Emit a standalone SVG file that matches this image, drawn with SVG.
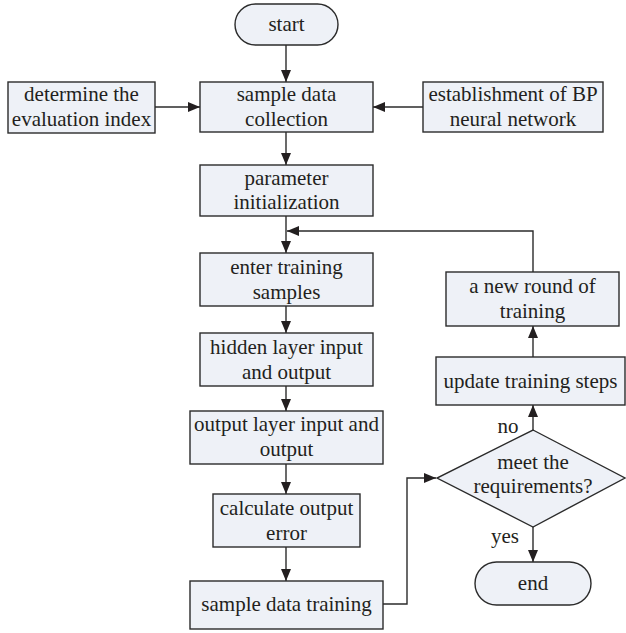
<svg xmlns="http://www.w3.org/2000/svg" width="626" height="633" viewBox="0 0 626 633">
<style>
.n{fill:#eef1f7;stroke:#2b2b2b;stroke-width:1.4}
.t{font-family:"Liberation Serif","Times New Roman",serif;font-size:21px;fill:#231f20;text-anchor:middle}
.c{fill:none;stroke:#2b2b2b;stroke-width:1.4}
</style>
<defs>
<marker id="a" viewBox="0 0 12 10" refX="12" refY="5" markerWidth="12" markerHeight="10" markerUnits="userSpaceOnUse" orient="auto">
<path d="M0,0 L12,5 L0,10 Z" fill="#231f20"/>
</marker>
</defs>
<g id="connectors">
<path class="c" d="M286,45 V82" marker-end="url(#a)"/>
<path class="c" d="M155,107 H200" marker-end="url(#a)"/>
<path class="c" d="M423,107 H373" marker-end="url(#a)"/>
<path class="c" d="M286,132 V165" marker-end="url(#a)"/>
<path class="c" d="M286,216 V253" marker-end="url(#a)"/>
<path class="c" d="M533,272 V231 H287" marker-end="url(#a)"/>
<path class="c" d="M286,306 V333" marker-end="url(#a)"/>
<path class="c" d="M286,386 V411" marker-end="url(#a)"/>
<path class="c" d="M286,464 V494" marker-end="url(#a)"/>
<path class="c" d="M286,547 V581" marker-end="url(#a)"/>
<path class="c" d="M383,604 H407 V478 H436" marker-end="url(#a)"/>
<path class="c" d="M533,430 V405" marker-end="url(#a)"/>
<path class="c" d="M533,357 V326" marker-end="url(#a)"/>
<path class="c" d="M533,527 V562" marker-end="url(#a)"/>
</g>
<g id="start"><rect class="n" x="235" y="4" width="103" height="41" rx="20.5"/><text class="t" x="286.5" y="31">start</text></g>
<g id="determine"><rect class="n" x="8" y="82" width="147" height="51"/><text class="t" x="81.5" y="101">determine the</text><text class="t" x="81.5" y="126">evaluation index</text></g>
<g id="collection"><rect class="n" x="200" y="82" width="173" height="50"/><text class="t" x="286.5" y="101">sample data</text><text class="t" x="286.5" y="126">collection</text></g>
<g id="establish"><rect class="n" x="423" y="82" width="180" height="50"/><text class="t" x="513" y="101">establishment of BP</text><text class="t" x="513" y="126">neural network</text></g>
<g id="param"><rect class="n" x="200" y="165" width="173" height="51"/><text class="t" x="286.5" y="185">parameter</text><text class="t" x="286.5" y="209">initialization</text></g>
<g id="enter"><rect class="n" x="200" y="253" width="173" height="53"/><text class="t" x="286.5" y="274">enter training</text><text class="t" x="286.5" y="299">samples</text></g>
<g id="newround"><rect class="n" x="446" y="272" width="173" height="54"/><text class="t" x="532.5" y="293">a new round of</text><text class="t" x="532.5" y="318">training</text></g>
<g id="hidden"><rect class="n" x="200" y="333" width="173" height="53"/><text class="t" x="286.5" y="354">hidden layer input</text><text class="t" x="286.5" y="379">and output</text></g>
<g id="update"><rect class="n" x="436" y="357" width="189" height="48"/><text class="t" x="530.5" y="388">update training steps</text></g>
<g id="outlayer"><rect class="n" x="190" y="411" width="193" height="53"/><text class="t" x="286.5" y="431">output layer input and</text><text class="t" x="286.5" y="456">output</text></g>
<g id="decision"><polygon class="n" points="533,430 625,478 533,527 437,478"/><text class="t" x="533" y="469">meet the</text><text class="t" x="533" y="493">requirements?</text></g>
<g id="calc"><rect class="n" x="213" y="494" width="147" height="53"/><text class="t" x="286.5" y="515">calculate output</text><text class="t" x="286.5" y="540">error</text></g>
<g id="training"><rect class="n" x="190" y="581" width="193" height="48"/><text class="t" x="286.5" y="611">sample data training</text></g>
<g id="end"><rect class="n" x="475" y="562" width="116" height="43" rx="21.5"/><text class="t" x="533" y="590">end</text></g>
<text class="t" x="508" y="433">no</text>
<text class="t" x="505" y="543">yes</text>
</svg>
